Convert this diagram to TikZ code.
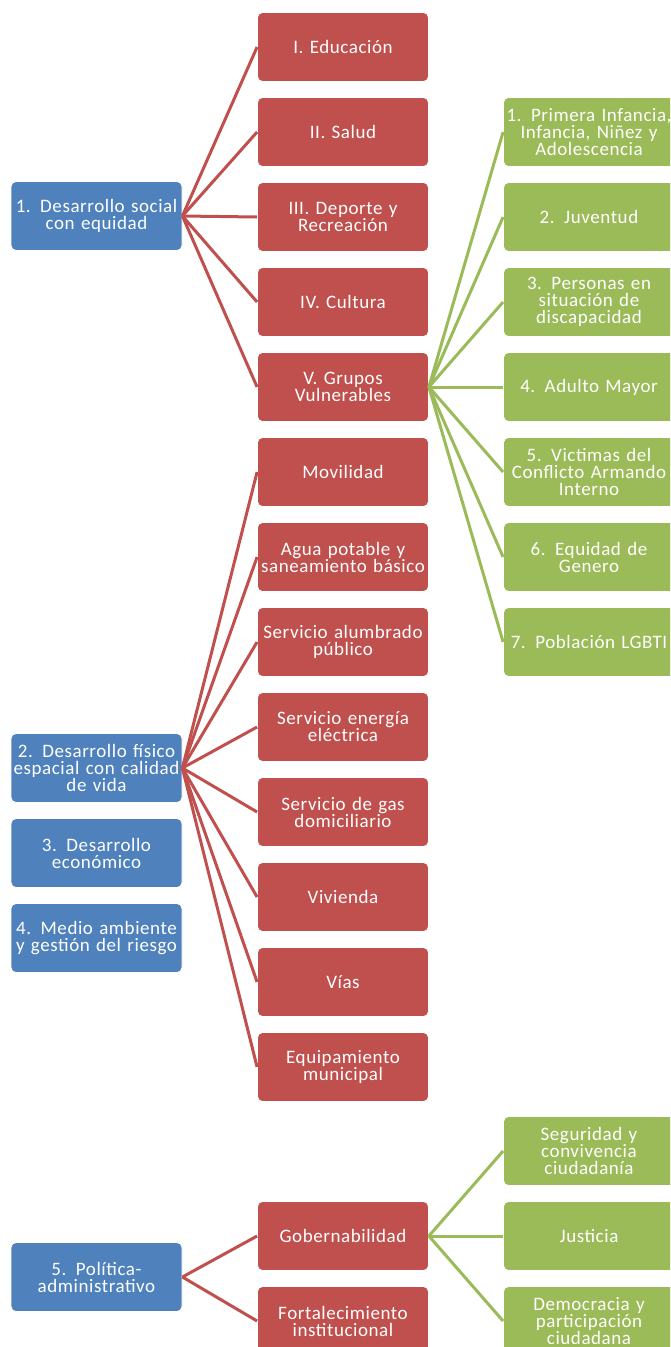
\documentclass[tikz,border=0pt]{standalone}
\usepackage{fontspec}
\setmainfont{Carlito}[LetterSpace=3]
\definecolor{cblue}{HTML}{4F81BD}
\definecolor{cred}{HTML}{C0504D}
\definecolor{cgreen}{HTML}{9BBB59}
\begin{document}
\begin{tikzpicture}[x=1pt,y=-1pt,
  box/.style={rectangle, rounded corners=5pt, minimum width=171pt, minimum height=69pt,
    text width=168pt, inner sep=0pt, align=center, text=white, draw=white, line width=0.8pt,
    font=\fontsize{19}{17}\selectfont},
  bbox/.style={box, fill=cblue},
  rbox/.style={box, fill=cred},
  gbox/.style={box, fill=cgreen},
  rline/.style={draw=cred, line width=3pt},
  gline/.style={draw=cgreen, line width=3pt}]
\clip (0,0) rectangle (670,1347);
% blue
\node[bbox] (b1) at (96.5,216) {1. Desarrollo social\\con equidad};
\node[bbox] (b2) at (96.5,768) {2. Desarrollo físico\\espacial con calidad\\de vida};
\node[bbox] (b3) at (96.5,853) {3. Desarrollo\\económico};
\node[bbox] (b4) at (96.5,938) {4. Medio ambiente\\y gestión del riesgo};
\node[bbox] (b5) at (96.5,1277) {5. Política-\\administrativo};
% red
\node[rbox] (r1) at (343,47) {I. Educación};
\node[rbox] (r2) at (343,132) {II. Salud};
\node[rbox] (r3) at (343,217) {III. Deporte y\\Recreación};
\node[rbox] (r4) at (343,302) {IV. Cultura};
\node[rbox] (r5) at (343,387) {V. Grupos\\Vulnerables};
\node[rbox] (m1) at (343,472) {Movilidad};
\node[rbox] (m2) at (343,557) {Agua potable y\\saneamiento básico};
\node[rbox] (m3) at (343,642) {Servicio alumbrado\\público};
\node[rbox] (m4) at (343,727) {Servicio energía\\eléctrica};
\node[rbox] (m5) at (343,812) {Servicio de gas\\domiciliario};
\node[rbox] (m6) at (343,897) {Vivienda};
\node[rbox] (m7) at (343,982) {Vías};
\node[rbox] (m8) at (343,1067) {Equipamiento\\municipal};
\node[rbox] (p1) at (343,1236) {Gobernabilidad};
\node[rbox] (p2) at (343,1321) {Fortalecimiento\\institucional};
% green
\node[gbox] (g1) at (589,132) {1. Primera Infancia,\\Infancia, Niñez y\\Adolescencia};
\node[gbox] (g2) at (589,217) {2. Juventud};
\node[gbox] (g3) at (589,302) {3. Personas en\\situación de\\discapacidad};
\node[gbox] (g4) at (589,387) {4. Adulto Mayor};
\node[gbox] (g5) at (589,472) {5. Victimas del\\Conflicto Armando\\Interno};
\node[gbox] (g6) at (589,557) {6. Equidad de\\Genero};
\node[gbox] (g7) at (589,642) {7. Población LGBTI};
\node[gbox] (q1) at (589,1151) {Seguridad y\\convivencia\\ciudadanía};
\node[gbox] (q2) at (589,1236) {Justicia};
\node[gbox] (q3) at (589,1321) {Democracia y\\participación\\ciudadana};
% connectors
\foreach \t in {r1,r2,r3,r4,r5} \draw[rline] (b1.east) -- (\t.west);
\foreach \t in {m1,m2,m3,m4,m5,m6,m7,m8} \draw[rline] (b2.east) -- (\t.west);
\foreach \t in {p1,p2} \draw[rline] (b5.east) -- (\t.west);
\foreach \t in {g1,g2,g3,g4,g5,g6,g7} \draw[gline] (r5.east) -- (\t.west);
\foreach \t in {q1,q2,q3} \draw[gline] (p1.east) -- (\t.west);
\end{tikzpicture}
\end{document}
